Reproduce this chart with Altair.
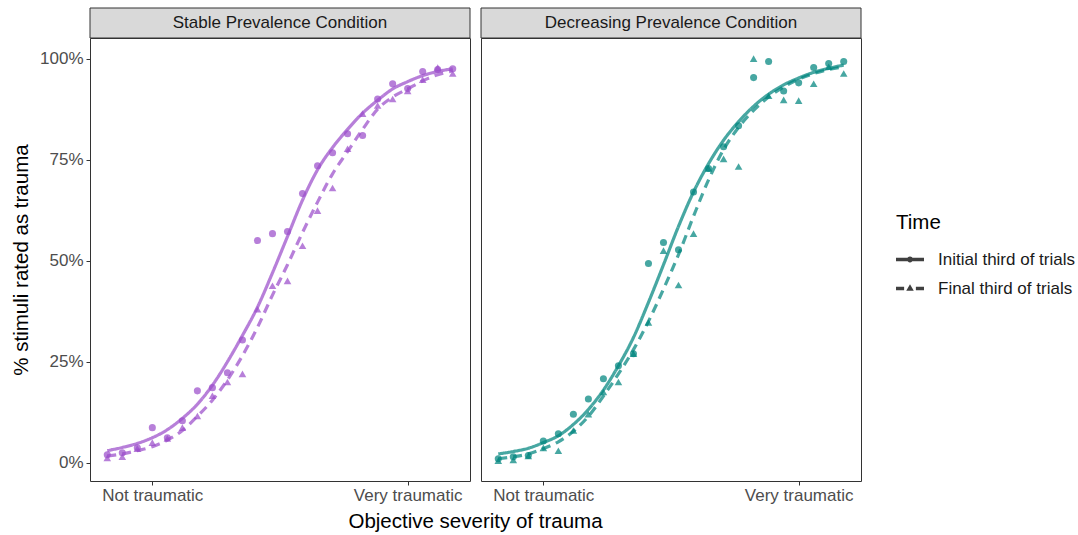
import altair as alt
import pandas as pd

FONT = "Liberation Sans"

# ---- data ----
severity_index = list(range(1, 25))
tick_positions = [4, 21]
tick_labels = ["Not traumatic", "Very traumatic"]
conditions = ["Stable Prevalence Condition", "Decreasing Prevalence Condition"]
time_levels = ["Initial third of trials", "Final third of trials"]
x_title = ["Objective severity of trauma"]

# observed % (points)
stable_initial = [2.0, 2.5, 3.7, 8.7, 6.2, 10.4, 17.8, 18.6, 22.3, 30.4, 55.0, 56.7,
                  57.2, 66.6, 73.5, 76.7, 81.4, 81.0, 90.0, 93.8, 92.6, 96.8, 97.3, 97.5]
stable_final = [1.2, 1.5, 3.5, 5.0, 6.0, 8.7, 11.6, 16.6, 20.0, 22.0, 38.0, 43.8,
                45.0, 53.7, 62.4, 68.0, 77.7, 86.4, 88.4, 90.0, 92.0, 94.8, 97.8, 96.3]
decr_initial = [1.0, 1.5, 1.8, 5.4, 7.2, 12.0, 15.8, 20.8, 24.0, 27.0, 49.3, 54.5,
                52.7, 67.0, 72.8, 78.2, 83.4, 95.3, 99.3, 92.0, 94.0, 97.8, 98.8, 99.3]
decr_final = [0.5, 0.7, 1.7, 3.7, 3.0, 8.0, 12.0, 17.5, 20.0, 27.0, 34.7, 52.5,
              44.0, 56.7, 72.8, 75.2, 73.3, 100.0, 90.8, 89.8, 89.6, 93.8, 98.0, 96.3]

# fitted curves % (read at each severity step)
stable_initial_fit = [3.0, 3.8, 4.8, 6.2, 8.2, 11.0, 14.5, 19.2, 25.0, 31.5, 38.5, 47.0,
                      56.0, 65.0, 72.5, 78.0, 82.5, 86.5, 89.7, 92.5, 94.3, 95.8, 96.8, 97.5]
stable_final_fit = [1.7, 2.2, 3.0, 4.0, 5.6, 8.0, 11.5, 15.5, 20.5, 26.5, 33.5, 41.5,
                    49.0, 57.0, 64.5, 71.5, 77.0, 82.5, 87.5, 90.5, 92.5, 94.5, 96.0, 97.0]
decr_initial_fit = [2.2, 2.8, 3.6, 5.0, 6.7, 9.5, 13.2, 18.0, 24.0, 31.0, 39.7, 49.0,
                    58.5, 67.0, 74.0, 79.8, 84.4, 88.2, 91.2, 93.5, 95.2, 96.6, 97.6, 98.4]
decr_final_fit = [1.0, 1.5, 2.2, 3.5, 5.2, 7.8, 11.5, 16.5, 22.0, 28.0, 35.0, 43.0,
                  51.5, 61.0, 70.0, 77.5, 83.0, 87.2, 90.5, 93.0, 94.9, 96.3, 97.3, 98.0]

series = {
    (conditions[0], time_levels[0]): (stable_initial, stable_initial_fit),
    (conditions[0], time_levels[1]): (stable_final, stable_final_fit),
    (conditions[1], time_levels[0]): (decr_initial, decr_initial_fit),
    (conditions[1], time_levels[1]): (decr_final, decr_final_fit),
}
rows = []
for (cond, t), (pts, fit) in series.items():
    for x, p, f in zip(severity_index, pts, fit):
        rows.append({"condition": cond, "time": t, "x": x, "y": p / 100.0, "fit": f / 100.0})
df = pd.DataFrame(rows)

# ---- styling ----
PANEL_W, PANEL_H, STRIP_H, GAP = 380, 443, 30, 11
panel_colors = {conditions[0]: "#9b4dca", conditions[1]: "#00857e"}
ALPHA = 0.72

label_expr = "''"
for pos, lab in zip(reversed(tick_positions), reversed(tick_labels)):
    label_expr = f"datum.value == {pos} ? '{lab}' : ({label_expr})"

x_scale = alt.Scale(domain=[-0.15, 25.15], nice=False, zero=False)
y_scale = alt.Scale(domain=[-0.045, 1.051], nice=False, zero=False)
x_axis = alt.Axis(values=tick_positions, labelExpr=label_expr, title=None, grid=False,
                  domain=False, ticks=True, tickSize=4, tickColor="#333333",
                  labelFontSize=17, labelColor="#4d4d4d", labelFont=FONT, labelPadding=2,
                  labelFlush=False)
y_axis = alt.Axis(values=[0, 0.25, 0.5, 0.75, 1.0], format=".0%", title="% stimuli rated as trauma",
                  grid=False, domain=False, tickSize=4, tickColor="#333333",
                  labelFontSize=17, labelColor="#4d4d4d", labelFont=FONT, labelPadding=3,
                  titleFontSize=20.5, titleFont=FONT, titleFontWeight="normal",
                  titleColor="#000000", titlePadding=8)

# legend symbols: line + marker drawn as custom paths
path_solid = ("M-1,-0.12H1V0.12H-1Z "
              "M-0.21,0A0.21,0.21 0 1,1 0.21,0A0.21,0.21 0 1,1 -0.21,0Z")
path_dashed = ("M-1,-0.12H-0.42V0.12H-1Z M0.42,-0.12H1V0.12H0.42Z "
               "M0,-0.3L0.27,0.16L-0.27,0.16Z")


def panel(cond, first, with_legend):
    color = panel_colors[cond]
    base = alt.Chart(df).transform_filter(alt.datum.condition == cond)
    yax = y_axis if first else None
    layers = []
    for t, dash, shape, size in [(time_levels[0], [1, 0], "circle", 50),
                                 (time_levels[1], [9, 6], "triangle-up", 58)]:
        sub = base.transform_filter(alt.datum.time == t)
        layers.append(sub.mark_line(color=color, opacity=ALPHA, strokeWidth=3.2,
                                    strokeDash=dash, interpolate="monotone").encode(
            x=alt.X("x:Q", scale=x_scale, axis=x_axis),
            y=alt.Y("fit:Q", scale=y_scale, axis=yax),
        ))
        layers.append(sub.mark_point(filled=True, shape=shape, size=size, color=color,
                                     opacity=ALPHA, strokeWidth=0).encode(
            x=alt.X("x:Q", scale=x_scale, axis=x_axis),
            y=alt.Y("y:Q", scale=y_scale, axis=yax),
        ))
    if with_legend:
        leg = base.transform_filter(alt.datum.x == 24).mark_point(
            filled=True, opacity=0, color="#404040").encode(
            x=alt.X("x:Q", scale=x_scale, axis=x_axis),
            y=alt.Y("y:Q", scale=y_scale, axis=yax),
            shape=alt.Shape("time:N",
                            scale=alt.Scale(domain=time_levels, range=[path_solid, path_dashed]),
                            legend=alt.Legend(title="Time", orient="none", legendX=806, legendY=175,
                                              symbolSize=784, symbolFillColor="#3d3d3d",
                                              symbolStrokeWidth=0, symbolOpacity=1,
                                              labelFontSize=17, labelFont=FONT, labelColor="#1a1a1a",
                                              labelOffset=14, rowPadding=7,
                                              titleFontSize=20.5, titleFont=FONT,
                                              titleFontWeight="normal", titleColor="#000000",
                                              titlePadding=12)),
        )
        layers.append(leg)
    strip_df = pd.DataFrame({"condition": [cond]})
    strip = alt.Chart(strip_df).mark_rect(fill="#d9d9d9", stroke="#333333", strokeWidth=1).encode(
        x=alt.value(0), x2=alt.value(PANEL_W), y=alt.value(-STRIP_H), y2=alt.value(0))
    strip_text = alt.Chart(strip_df).mark_text(fontSize=17, font=FONT, color="#1a1a1a").encode(
        x=alt.value(PANEL_W / 2), y=alt.value(-STRIP_H / 2), text="condition:N")
    extra = [strip, strip_text]
    if first:
        title_df = pd.DataFrame({"label": x_title})
        extra.append(alt.Chart(title_df).mark_text(fontSize=20.5, font=FONT, color="#000000",
                                                   baseline="middle").encode(
            x=alt.value(PANEL_W + GAP / 2), y=alt.value(PANEL_H + 41), text="label:N"))
    return alt.layer(*layers, *extra).properties(width=PANEL_W, height=PANEL_H)


chart = alt.hconcat(
    panel(conditions[0], True, False),
    panel(conditions[1], False, True),
    spacing=GAP,
    bounds="flush",
).properties(
    padding={"left": 11, "top": 7, "right": 0, "bottom": 2},
).configure_view(stroke="#333333", strokeWidth=1)

chart.save("out.html", embed_options={"renderer": "svg", "actions": False})
